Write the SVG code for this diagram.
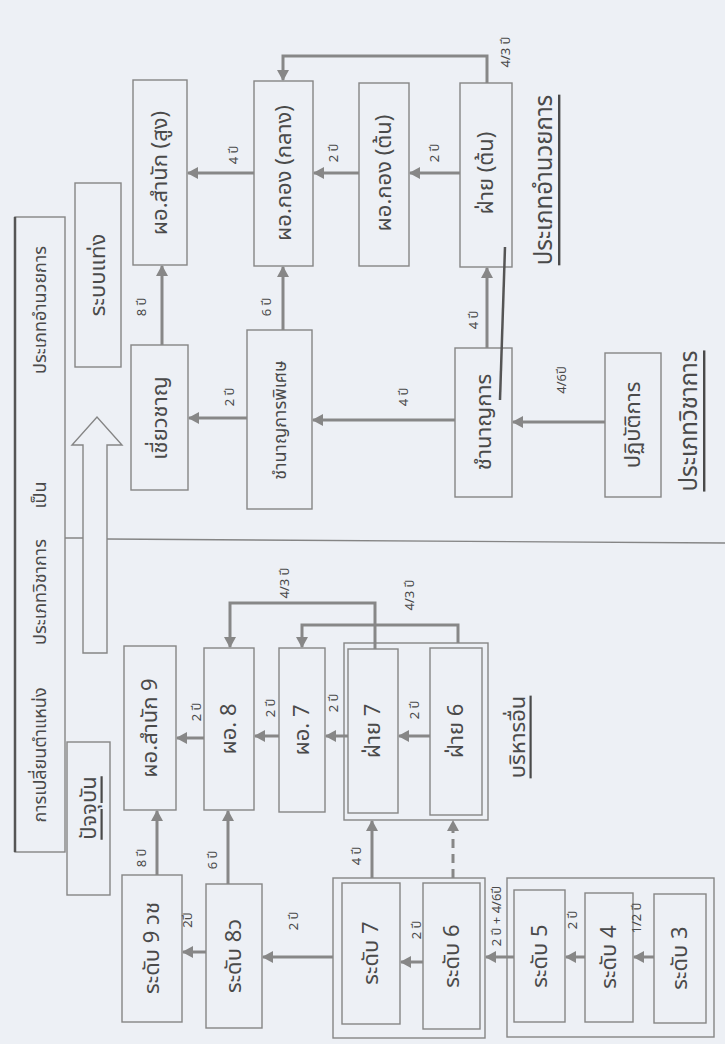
<svg xmlns="http://www.w3.org/2000/svg" width="725" height="1044" viewBox="0 0 725 1044">
<style>
.bg{fill:#edf0f5}
.box{fill:none;stroke:#858585;stroke-width:1.4}
.conn{fill:none;stroke:#878787;stroke-width:3}
.dash{fill:none;stroke:#878787;stroke-width:3;stroke-dasharray:9 6}
.div{fill:none;stroke:#858585;stroke-width:1.4}
text{font-family:"Noto Sans Thai","Noto Serif Thai","Noto Sans","DejaVu Sans",sans-serif;fill:#4a4a4a;text-anchor:middle;dominant-baseline:central}
.t{font-size:22px}
.tl{font-size:24px}
.tm{font-size:18px}
.s{font-size:13px}
.u{text-decoration:underline}
</style>
<defs>
<marker id="ah" markerUnits="userSpaceOnUse" markerWidth="12" markerHeight="12" refX="10" refY="6" orient="auto">
<path d="M0,0 L11,6 L0,12 z" fill="#878787"/>
</marker>
</defs>
<rect class="bg" x="0" y="0" width="725" height="1044"/>

<g id="title">
<rect x="15" y="217" width="50" height="635" fill="none" stroke="#858585" stroke-width="1.4"/>
<line x1="15" y1="217" x2="15" y2="852" stroke="#555" stroke-width="2.5"/>
<text class="tm" transform="translate(40,755) rotate(-90)">การเปลี่ยนตำแหน่ง</text>
<text class="tm" transform="translate(40,592) rotate(-90)">ประเภทวิชาการ</text>
<text class="tm" transform="translate(40,495) rotate(-90)">เป็น</text>
<text class="tm" transform="translate(40,310) rotate(-90)">ประเภทอำนวยการ</text>
</g>

<g id="divider">
<path class="div" d="M65,538 L83,538 M107,539 L725,543"/>
<polygon points="83,653 83,445 72,445 97,417 122,445 107,445 107,653" fill="none" stroke="#858585" stroke-width="1.4"/>
</g>

<g id="rabob-thaeng"><rect class="box" x="75" y="183" width="46" height="184"/><text class="t" transform="translate(98,275) rotate(-90)">ระบบแท่ง</text></g>
<g id="patjuban"><rect class="box" x="67" y="742" width="43" height="153"/><text class="t u" transform="translate(89,808) rotate(-90)">ปัจจุบัน</text></g>

<g id="n-samnak-sung"><rect class="box" x="133" y="80" width="54" height="185"/><text class="t" transform="translate(160,173) rotate(-90)">ผอ.สำนัก (สูง)</text></g>
<g id="n-kong-klang"><rect class="box" x="254" y="81" width="59" height="185"/><text class="t" transform="translate(284,173) rotate(-90)">ผอ.กอง (กลาง)</text></g>
<g id="n-kong-ton"><rect class="box" x="359" y="83" width="50" height="183"/><text class="t" transform="translate(384,173) rotate(-90)">ผอ.กอง (ต้น)</text></g>
<g id="n-fai-ton"><rect class="box" x="460" y="83" width="52" height="184"/><text class="t" transform="translate(486,173) rotate(-90)">ฝ่าย (ต้น)</text></g>
<g id="n-chiaochan"><rect class="box" x="131" y="345" width="57" height="145"/><text class="t" transform="translate(160,418) rotate(-90)">เชี่ยวชาญ</text></g>
<g id="n-chamnan-phiset"><rect class="box" x="247" y="330" width="65" height="179"/><text class="tm" transform="translate(280,420) rotate(-90)">ชำนาญการพิเศษ</text></g>
<g id="n-chamnan"><rect class="box" x="455" y="348" width="57" height="149"/><text class="t" transform="translate(484,422) rotate(-90)">ชำนาญการ</text></g>
<g id="n-patibat"><rect class="box" x="605" y="353" width="56" height="144"/><text class="t" transform="translate(633,425) rotate(-90)">ปฏิบัติการ</text></g>
<g id="lbl-amnuaikan"><text class="tl u" transform="translate(545,180) rotate(-90)">ประเภทอำนวยการ</text></g>
<g id="lbl-wichakan"><text class="tl u" transform="translate(690,421) rotate(-90)">ประเภทวิชาการ</text></g>

<g id="c-samnak9"><rect class="box" x="124" y="646" width="52" height="164"/><text class="t" transform="translate(150,728) rotate(-90)">ผอ.สำนัก 9</text></g>
<g id="c-po8"><rect class="box" x="204" y="648" width="50" height="162"/><text class="t" transform="translate(229,729) rotate(-90)">ผอ. 8</text></g>
<g id="c-po7"><rect class="box" x="279" y="648" width="46" height="164"/><text class="t" transform="translate(302,730) rotate(-90)">ผอ. 7</text></g>
<g id="c-fai-group"><rect class="box" x="344" y="643" width="144" height="177"/></g>
<g id="c-fai7"><rect class="box" x="348" y="649" width="50" height="164"/><text class="t" transform="translate(373,731) rotate(-90)">ฝ่าย 7</text></g>
<g id="c-fai6"><rect class="box" x="430" y="648" width="52" height="167"/><text class="t" transform="translate(456,731) rotate(-90)">ฝ่าย 6</text></g>
<g id="lbl-borihan"><text class="t u" transform="translate(518,737) rotate(-90)">บริหารอื่น</text></g>

<g id="c-radap9"><rect class="box" x="122" y="875" width="60" height="147"/><text class="t" transform="translate(152,948) rotate(-90)">ระดับ 9 วช</text></g>
<g id="c-radap8"><rect class="box" x="206" y="884" width="56" height="144"/><text class="t" transform="translate(234,956) rotate(-90)">ระดับ 8ว</text></g>
<g id="c-group76"><rect class="box" x="333" y="878" width="152" height="160"/></g>
<g id="c-radap7"><rect class="box" x="342" y="883" width="58" height="141"/><text class="t" transform="translate(371,953) rotate(-90)">ระดับ 7</text></g>
<g id="c-radap6"><rect class="box" x="423" y="883" width="57" height="146"/><text class="t" transform="translate(452,956) rotate(-90)">ระดับ 6</text></g>
<g id="c-group543"><rect class="box" x="507" y="878" width="207" height="159"/></g>
<g id="c-radap5"><rect class="box" x="514" y="890" width="51" height="132"/><text class="t" transform="translate(540,956) rotate(-90)">ระดับ 5</text></g>
<g id="c-radap4"><rect class="box" x="585" y="893" width="48" height="129"/><text class="t" transform="translate(609,957) rotate(-90)">ระดับ 4</text></g>
<g id="c-radap3"><rect class="box" x="654" y="894" width="52" height="129"/><text class="t" transform="translate(680,958) rotate(-90)">ระดับ 3</text></g>

<g id="connectors">
<path class="conn" marker-end="url(#ah)" d="M254,173 L188,173"/>
<path class="conn" marker-end="url(#ah)" d="M359,173 L314,173"/>
<path class="conn" marker-end="url(#ah)" d="M460,173 L410,173"/>
<path class="conn" marker-end="url(#ah)" d="M487,83 L487,56 L283,56 L283,80"/>
<path class="conn" marker-end="url(#ah)" d="M487,348 L487,268"/>
<path class="conn" marker-end="url(#ah)" d="M605,422 L513,422"/>
<path class="conn" marker-end="url(#ah)" d="M455,420 L313,420"/>
<path class="conn" marker-end="url(#ah)" d="M283,330 L283,267"/>
<path class="conn" marker-end="url(#ah)" d="M247,418 L189,418"/>
<path class="conn" marker-end="url(#ah)" d="M162,345 L162,266"/>
<path d="M505,247 L500,400" stroke="#555" stroke-width="2.5" fill="none"/>

<path class="conn" marker-end="url(#ah)" d="M375,649 L375,603 L230,603 L230,647"/>
<path class="conn" marker-end="url(#ah)" d="M458,643 L458,625 L302,625 L302,647"/>
<path class="conn" marker-end="url(#ah)" d="M204,738 L177,738"/>
<path class="conn" marker-end="url(#ah)" d="M279,736 L255,736"/>
<path class="conn" marker-end="url(#ah)" d="M348,736 L326,736"/>
<path class="conn" marker-end="url(#ah)" d="M430,736 L399,736"/>
<path class="conn" marker-end="url(#ah)" d="M157,875 L157,811"/>
<path class="conn" marker-end="url(#ah)" d="M228,884 L228,811"/>
<path class="conn" marker-end="url(#ah)" d="M206,952 L183,952"/>
<path class="conn" marker-end="url(#ah)" d="M333,957 L263,957"/>
<path class="conn" marker-end="url(#ah)" d="M372,878 L372,821"/>
<path class="dash" marker-end="url(#ah)" d="M453,878 L453,821"/>
<path class="conn" marker-end="url(#ah)" d="M423,962 L401,962"/>
<path class="conn" marker-end="url(#ah)" d="M514,957 L486,957"/>
<path class="conn" marker-end="url(#ah)" d="M585,957 L566,957"/>
<path class="conn" marker-end="url(#ah)" d="M654,957 L634,957"/>

<text class="s" transform="translate(234,155) rotate(-90)">4 ปี</text>
<text class="s" transform="translate(334,153) rotate(-90)">2 ปี</text>
<text class="s" transform="translate(435,153) rotate(-90)">2 ปี</text>
<text class="s" transform="translate(506,52) rotate(-90)">4/3 ปี</text>
<text class="s" transform="translate(474,320) rotate(-90)">4 ปี</text>
<text class="s" transform="translate(562,380) rotate(-90)">4/6ปี</text>
<text class="s" transform="translate(404,397) rotate(-90)">4 ปี</text>
<text class="s" transform="translate(267,307) rotate(-90)">6 ปี</text>
<text class="s" transform="translate(230,397) rotate(-90)">2 ปี</text>
<text class="s" transform="translate(142,307) rotate(-90)">8 ปี</text>

<text class="s" transform="translate(285,583) rotate(-90)">4/3 ปี</text>
<text class="s" transform="translate(410,595) rotate(-90)">4/3 ปี</text>
<text class="s" transform="translate(197,712) rotate(-90)">2 ปี</text>
<text class="s" transform="translate(271,708) rotate(-90)">2 ปี</text>
<text class="s" transform="translate(334,703) rotate(-90)">2 ปี</text>
<text class="s" transform="translate(415,710) rotate(-90)">2 ปี</text>
<text class="s" transform="translate(142,858) rotate(-90)">8 ปี</text>
<text class="s" transform="translate(213,860) rotate(-90)">6 ปี</text>
<text class="s" transform="translate(188,920) rotate(-90)">2ปี</text>
<text class="s" transform="translate(294,921) rotate(-90)">2 ปี</text>
<text class="s" transform="translate(357,856) rotate(-90)">4 ปี</text>
<text class="s" transform="translate(417,930) rotate(-90)">2 ปี</text>
<text class="s" transform="translate(497,916) rotate(-90)">2 ปี + 4/6ปี</text>
<text class="s" transform="translate(573,920) rotate(-90)">2 ปี</text>
<text class="s" transform="translate(637,918) rotate(-90)">1/2 ปี</text>
</g>
</svg>
